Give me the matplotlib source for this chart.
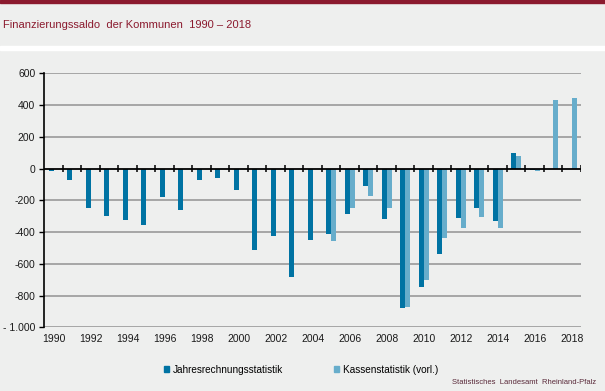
import numpy as np
import matplotlib.pyplot as plt
from matplotlib.patches import Patch

plt.rcParams['font.family'] = ['Liberation Sans', 'DejaVu Sans']

years = list(range(1990, 2019))
jahresrechnung = [-15, -72, -246, -299, -324, -356, -179, -261, -72, -59,
                  -135, -514, -425, -684, -450, -413, -286, -110, -318, -880,
                  -747, -539, -312, -249, -331, 97, -9, None, None]
kassen = [None] * 15 + [-457, -249, -173, -249, -875,
                        -699, -438, -375, -305, -375, 78, -15, 431, 444]
yticks = [600, 400, 200, 0, -200, -400, -600, -800, -1000]
ytick_labels = ['600', '400', '200', '0', '-200', '-400', '-600', '-800', '- 1.000']

bg = '#eeefee'
dark = '#0073a3'
light = '#67adcb'
maroon = '#8b1a2e'

fig = plt.figure(figsize=(6.05, 3.91), dpi=100, facecolor=bg)
ax = fig.add_axes([0.0732, 0.1629, 0.8871, 0.6496], facecolor=bg)

# band decoration of the page
fig.patches.append(plt.Rectangle((0, 1 - 2.5 / 391), 1, 2.5 / 391, transform=fig.transFigure,
                                 color=maroon, zorder=0))
fig.patches.append(plt.Rectangle((0, 1 - 49.5 / 391), 1, 3.5 / 391, transform=fig.transFigure,
                                 color='white', zorder=0))

x = np.arange(len(years))
w = 0.27
for i in range(len(years)):
    if jahresrechnung[i] is not None:
        ax.bar(x[i] - w / 2, jahresrechnung[i], width=w, color=dark, zorder=3)
    if kassen[i] is not None:
        ax.bar(x[i] + w / 2, kassen[i], width=w, color=light, zorder=3)

ax.set_xlim(-0.5, len(years) - 0.5)
ax.set_ylim(-1000, 600)
ax.set_yticks(yticks)
ax.set_yticklabels(ytick_labels)
for y in yticks:
    if y != 0:
        ax.axhline(y, color='#a0a0a0', lw=1.3, zorder=1)
ax.axhline(0, color='black', lw=1.3, zorder=4)
ax.vlines(np.arange(0.5, len(years)), -22, 22, color='black', lw=1.1, zorder=4)

ax.set_xticks(x[::2])
ax.set_xticklabels([str(y) for y in years[::2]])
ax.tick_params(axis='x', length=0, pad=5, labelsize=7.5, labelcolor='#1a1a1a')
ax.tick_params(axis='y', length=3.5, width=1, direction='out', pad=3, labelsize=7.5,
               labelcolor='#1a1a1a')
for s in ['top', 'right', 'bottom']:
    ax.spines[s].set_visible(False)
ax.spines['left'].set_linewidth(1.2)
ax.spines['left'].set_zorder(5)

fig.text(0.005, 1 - 25 / 391, 'Finanzierungssaldo  der Kommunen  1990 – 2018',
         color=maroon, fontsize=8, va='center', ha='left')

handles = [Patch(color=dark, label='Jahresrechnungsstatistik'),
           Patch(color=light, label='Kassenstatistik (vorl.)')]
fig.legend(handles=handles, loc='center', bbox_to_anchor=(301 / 605, 1 - 370 / 391),
           ncol=2, frameon=False, fontsize=7.2, handlelength=0.55, handleheight=0.55,
           handletextpad=0.4, columnspacing=5.0)

fig.text(596 / 605, 1 - 383 / 391, 'Statistisches  Landesamt  Rheinland-Pfalz',
         color='#5a2a3a', fontsize=5.5, ha='right', va='center')

fig.savefig('out.png', dpi=100, facecolor=bg)
